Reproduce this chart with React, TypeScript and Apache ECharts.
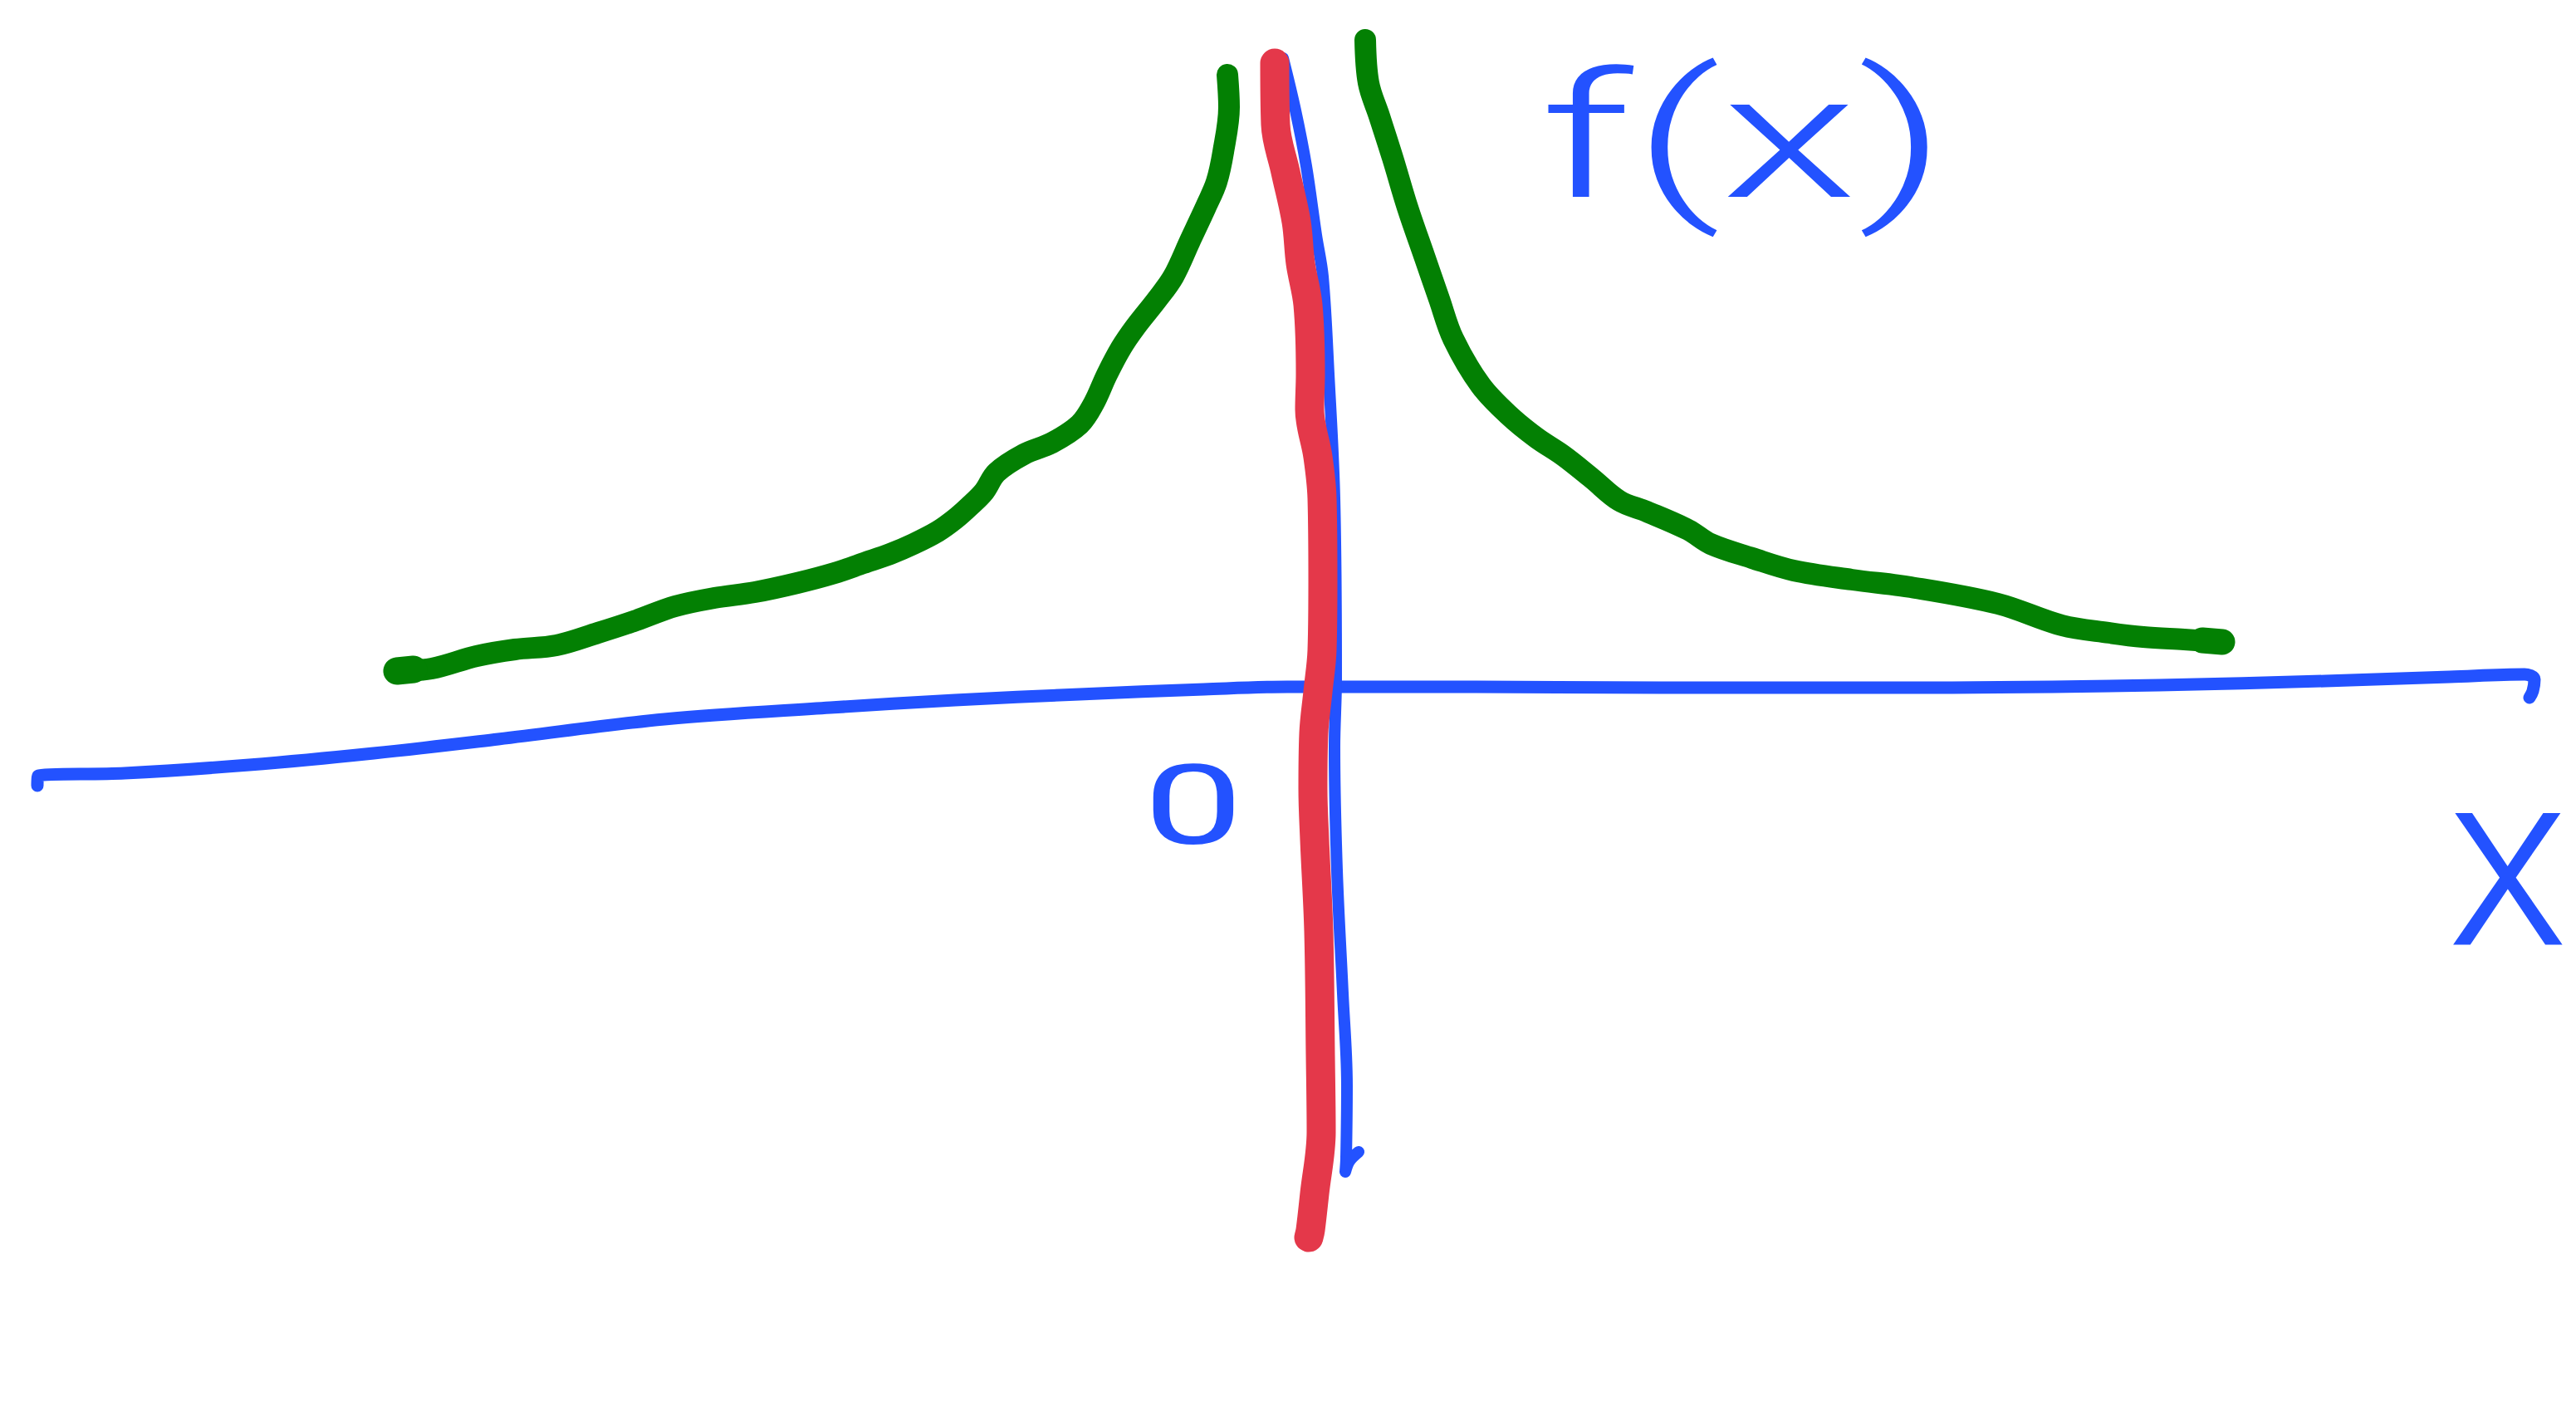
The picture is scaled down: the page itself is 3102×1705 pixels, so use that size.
import React, { useEffect, useRef } from "react";
import * as echarts from "echarts";

// Canvas size of the sketch, in pixels; the value axes use the same units.
const W = 3102;
const H = 1705;

// Pen colours
const BLUE = "#2352ff";
const RED = "#e4384a";
const GREEN = "#038003";

// Horizontal x axis, drawn left to right, ending with a small hook
const xAxisStroke: [number, number][] = [
  [45, 946], [46, 934], [150, 931], [300, 921], [450, 907], [600, 890],
  [800, 866], [1000, 852], [1150, 843], [1300, 836], [1450, 830], [1550, 827],
  [1750, 827], [2000, 828], [2300, 828], [2600, 825], [2800, 820], [2950, 815],
  [3040, 812], [3052, 818], [3050, 832], [3046, 840],
];

// Vertical y axis, drawn top to bottom, ending with a small tick
const yAxisStroke: [number, number][] = [
  [1545, 70], [1560, 133], [1573, 200], [1585, 283], [1593, 333], [1600, 450],
  [1607, 600], [1609, 817], [1607, 900], [1610, 1048], [1617, 1196],
  [1622, 1307], [1621, 1395], [1620, 1411], [1625, 1398], [1636, 1387],
];

// Vertical asymptote at x = 0 (thick red marker)
const asymptoteStroke: [number, number][] = [
  [1535, 76], [1536, 150], [1548, 207], [1561, 267], [1566, 317], [1575, 367],
  [1578, 450], [1577, 493], [1587, 550], [1592, 600], [1593, 700], [1592, 783],
  [1587, 833], [1582, 883], [1581, 950], [1583, 1011], [1588, 1122],
  [1590, 1270], [1591, 1363], [1583, 1437], [1578, 1481], [1576, 1490],
];

// Left branch of f(x), rising towards the asymptote
const leftBranch: [number, number][] = [
  [476, 808], [520, 805], [574, 790], [620, 782], [670, 777], [720, 762],
  [766, 747], [813, 730], [860, 720], [909, 713], [960, 702], [1005, 690],
  [1040, 678], [1072, 667], [1100, 655], [1129, 640], [1150, 625],
  [1167, 610], [1185, 592], [1200, 569], [1233, 547], [1267, 533],
  [1300, 511], [1317, 486], [1333, 451], [1350, 419], [1367, 394],
  [1393, 361], [1413, 333], [1433, 290], [1453, 247], [1465, 219],
  [1473, 183], [1480, 129], [1478, 90],
];

// Right branch of f(x), falling away from the asymptote
const rightBranch: [number, number][] = [
  [1644, 48], [1648, 100], [1661, 140], [1677, 190], [1695, 250], [1715, 308],
  [1733, 360], [1750, 408], [1783, 464], [1817, 500], [1850, 527],
  [1883, 549], [1917, 576], [1950, 603], [1983, 616], [2033, 638],
  [2060, 655], [2110, 672], [2160, 687], [2230, 698], [2301, 707],
  [2406, 727], [2483, 753], [2540, 762], [2581, 767], [2630, 770],
  [2676, 773],
];

// Heavier pen pressure where the branches start and stop
const leftBranchBlob: [number, number][] = [[478, 808], [498, 806]];
const rightBranchBlob: [number, number][] = [[2652, 771], [2676, 773]];

// Handwritten labels
const functionLabel = "f(x)";
const originLabel = "0";
const axisLabel = "x";

function strokeSeries(data: [number, number][], color: string, width: number) {
  return {
    type: "line",
    data,
    symbol: "none",
    smooth: 0.35,
    silent: true,
    lineStyle: { color, width, cap: "round", join: "round" },
    z: 2,
  };
}

export default function App() {
  const ref = useRef<HTMLDivElement>(null);

  useEffect(() => {
    if (!ref.current) return;
    const chart = echarts.init(ref.current, undefined, { renderer: "svg" });
    chart.setOption({
      animation: false,
      backgroundColor: "#ffffff",
      grid: { left: 0, right: 0, top: 0, bottom: 0 },
      xAxis: { type: "value", min: 0, max: W, show: false },
      yAxis: { type: "value", min: 0, max: H, inverse: true, show: false },
      series: [
        strokeSeries(xAxisStroke, BLUE, 15),
        strokeSeries(yAxisStroke, BLUE, 14),
        strokeSeries(asymptoteStroke, RED, 35),
        strokeSeries(leftBranch, GREEN, 26),
        strokeSeries(rightBranch, GREEN, 26),
        strokeSeries(leftBranchBlob, GREEN, 33),
        strokeSeries(rightBranchBlob, GREEN, 31),
      ],
      graphic: [
        {
          type: "text",
          x: 2100,
          y: 165,
          scaleX: 1.6,
          style: {
            text: functionLabel,
            fill: BLUE,
            fontFamily: "Roboto",
            fontWeight: 300,
            fontSize: 210,
            textAlign: "center",
            textVerticalAlign: "middle",
          },
        },
        {
          type: "text",
          x: 1437,
          y: 970,
          scaleX: 1.6,
          style: {
            text: originLabel,
            fill: BLUE,
            fontFamily: "Roboto",
            fontWeight: 400,
            fontSize: 134,
            textAlign: "center",
            textVerticalAlign: "middle",
          },
        },
        {
          type: "text",
          x: 3020,
          y: 1035,
          style: {
            text: axisLabel,
            fill: BLUE,
            fontFamily: "Roboto",
            fontWeight: 300,
            fontSize: 300,
            textAlign: "center",
            textVerticalAlign: "middle",
          },
        },
      ],
    });
    return () => chart.dispose();
  }, []);

  return (
    <div
      ref={ref}
      style={{ position: "fixed", left: 0, top: 0, width: W, height: H, background: "#fff" }}
    />
  );
}
